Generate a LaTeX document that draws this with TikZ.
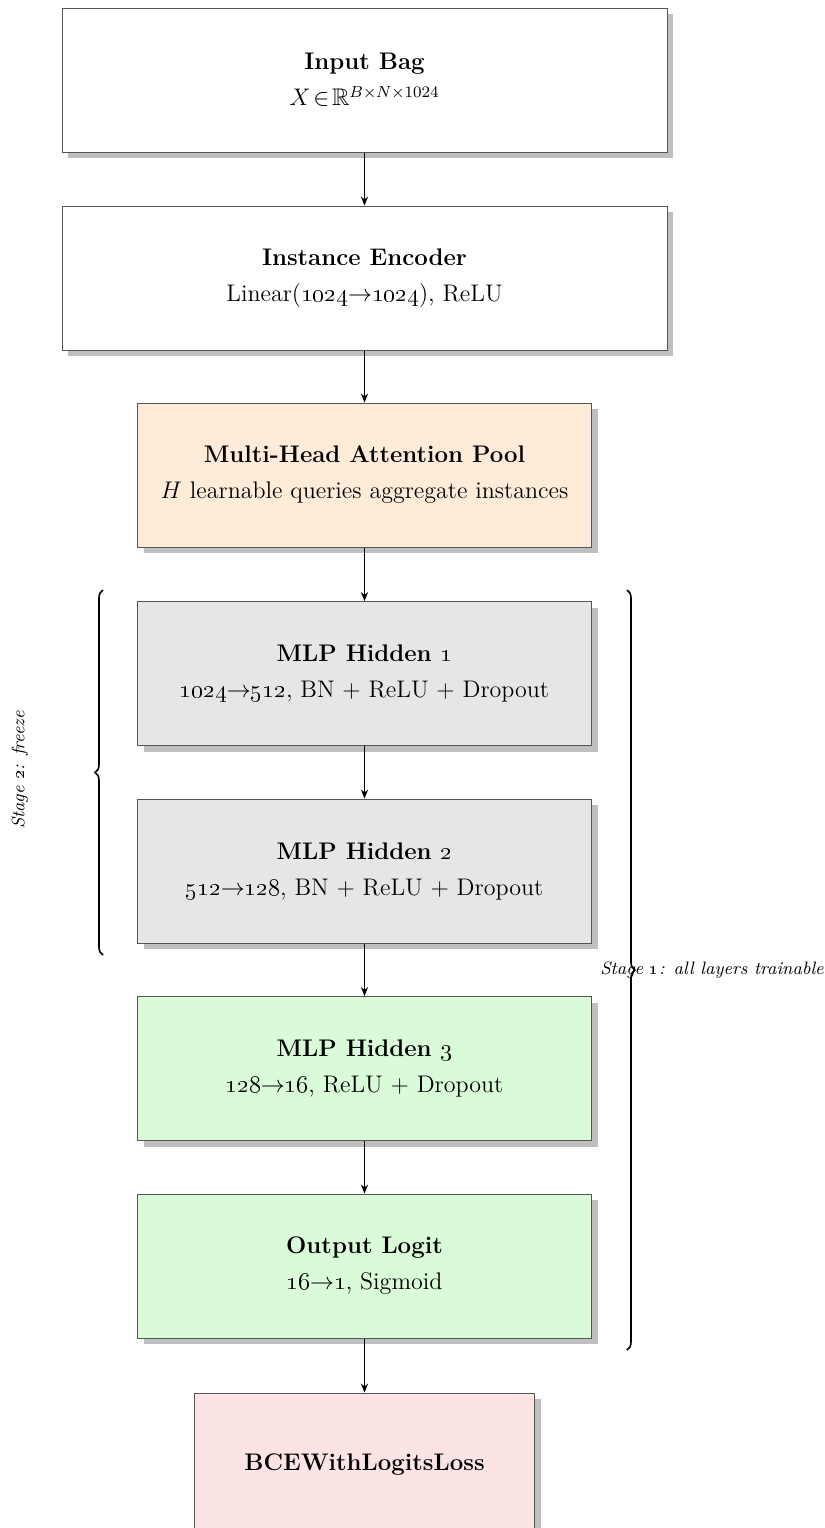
\documentclass[tikz,border=0pt]{standalone}
\usepackage{amsmath,amssymb}
\usetikzlibrary{arrows.meta,shadows,decorations.pathreplacing}

\definecolor{edgegray}{RGB}{85,85,85}
\definecolor{poolfill}{RGB}{254,236,216}
\definecolor{frozenfill}{RGB}{230,230,230}
\definecolor{trainfill}{RGB}{217,251,215}
\definecolor{lossfill}{RGB}{253,228,228}

\tikzset{
  layerbox/.style={draw=edgegray, line width=0.5pt, fill=white,
    minimum height=72pt, align=center, inner sep=4pt,
    font=\fontsize{12}{18}\selectfont,
    drop shadow={shadow xshift=3pt, shadow yshift=-3pt, fill=black!50, opacity=.5}},
  widebox/.style={layerbox, minimum width=302.5pt},
  midbox/.style={layerbox, minimum width=227pt},
  narrowbox/.style={layerbox, minimum width=170pt},
  flow/.style={-{Stealth[length=4.5pt,width=3.6pt]}, line width=0.5pt, black},
  stagebrace/.style={decorate, decoration={brace, amplitude=4pt}, line width=0.8pt},
  stagelabel/.style={font=\fontsize{9}{11}\selectfont\itshape, inner sep=0pt}
}

\begin{document}
\begin{tikzpicture}[x=0.5pt, y=-0.5pt]
\useasboundingbox (0,0) rectangle (825,1528);

% layers, top to bottom
\node[widebox] (bag) at (364.5,80)
  {\textbf{Input Bag}\\ $X\!\in\!\mathbb{R}^{B\times N\times 1024}$};
\node[widebox] (enc) at (364.5,278)
  {\textbf{Instance Encoder}\\ Linear(\oldstylenums{1024}$\rightarrow$\oldstylenums{1024}), ReLU};
\node[midbox, fill=poolfill] (pool) at (364.5,475)
  {\textbf{Multi-Head Attention Pool}\\ $H$ learnable queries aggregate instances};
\node[midbox, fill=frozenfill] (mlpa) at (364.5,673.5)
  {\textbf{MLP Hidden \oldstylenums{1}}\\ \oldstylenums{1024}$\rightarrow$\oldstylenums{512}, BN + ReLU + Dropout};
\node[midbox, fill=frozenfill] (mlpb) at (364.5,871)
  {\textbf{MLP Hidden \oldstylenums{2}}\\ \oldstylenums{512}$\rightarrow$\oldstylenums{128}, BN + ReLU + Dropout};
\node[midbox, fill=trainfill] (mlpc) at (364.5,1068.5)
  {\textbf{MLP Hidden \oldstylenums{3}}\\ \oldstylenums{128}$\rightarrow$\oldstylenums{16}, ReLU + Dropout};
\node[midbox, fill=trainfill] (logit) at (364.5,1266)
  {\textbf{Output Logit}\\ \oldstylenums{16}$\rightarrow$\oldstylenums{1}, Sigmoid};
\node[narrowbox, fill=lossfill] (loss) at (364.5,1465)
  {\textbf{BCEWithLogitsLoss}};

% data flow
\draw[flow] (bag) -- (enc);
\draw[flow] (enc) -- (pool);
\draw[flow] (pool) -- (mlpa);
\draw[flow] (mlpa) -- (mlpb);
\draw[flow] (mlpb) -- (mlpc);
\draw[flow] (mlpc) -- (logit);
\draw[flow] (logit) -- (loss);

% training stages
\coordinate (frzbot) at (103,955);
\coordinate (frztop) at (103,590);
\draw[stagebrace] (frzbot) -- (frztop);
\node[stagelabel, rotate=90] (frzlabel) at (20,770) {Stage \oldstylenums{2}: freeze};

\coordinate (alltop) at (627,590);
\coordinate (allbot) at (627,1350);
\draw[stagebrace] (alltop) -- (allbot);
\node[stagelabel] (alllabel) at (712,970) {Stage \oldstylenums{1}: all layers trainable};
\end{tikzpicture}
\end{document}
